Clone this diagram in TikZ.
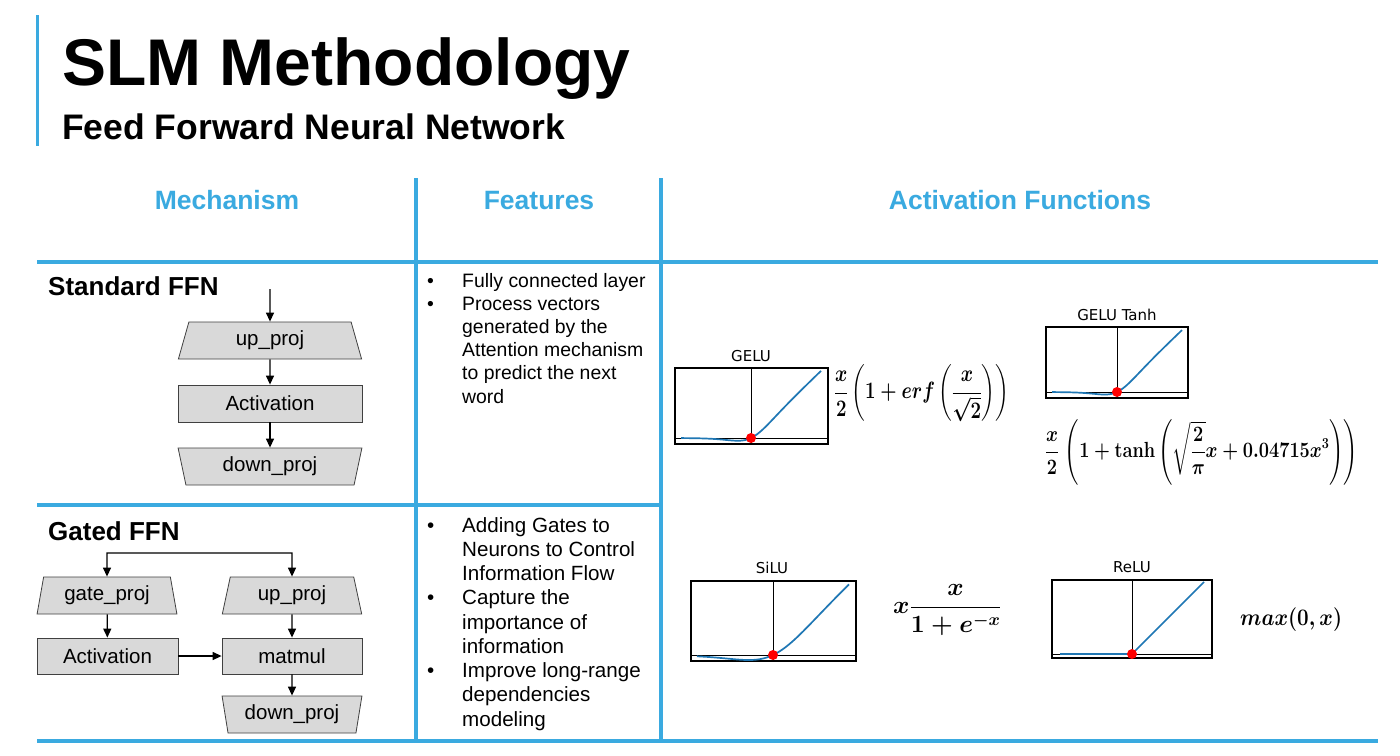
\documentclass[tikz,border=0pt]{standalone}
\usepackage{amsmath}
\usepackage{graphicx}
\usepackage[no-math]{fontspec}
\setmainfont{Liberation Sans}
\newfontfamily\plotfont{DejaVu Sans}
\usetikzlibrary{arrows.meta,shapes.geometric}
\definecolor{tblue}{RGB}{58,170,224}
\definecolor{boxgray}{RGB}{217,217,217}
\definecolor{plotblue}{RGB}{31,119,180}
\newcommand{\FGelu}{\scalebox{0.75}[0.95]{$\displaystyle \boldsymbol{\frac{x}{2}}\left(\boldsymbol{1+erf}\left(\boldsymbol{\frac{x}{\sqrt{2}}}\right)\right)$}}
\newcommand{\FTanh}{\scalebox{0.73}[0.88]{$\displaystyle \boldsymbol{\frac{x}{2}}\,\left(\boldsymbol{1+\mathbf{tanh}}\left(\boldsymbol{\sqrt{\frac{2}{\pi}}x+0.04715x^3}\right)\right)$}}
\newcommand{\FSilu}{\mbox{$\displaystyle \boldsymbol{x\frac{x}{1+e^{-x}}}$}}
\newcommand{\FRelu}{\scalebox{0.83}[0.95]{$\boldsymbol{max(0,x)}$}}
\begin{document}
\begin{tikzpicture}[x=1pt,y=-1pt,
  tline/.style={draw=tblue, line width=3.5pt},
  hdr/.style={text=tblue, font=\bfseries\fontsize{26.5}{30}\selectfont, anchor=base, inner sep=0pt},
  blk/.style={draw=black!75, fill=boxgray, line width=0.8pt, minimum width=184pt, minimum height=37pt, inner sep=0pt, font=\fontsize{20.5}{24}\selectfont},
  trap/.style={blk, trapezium, trapezium left angle=77, trapezium right angle=77, trapezium stretches=true},
  itrap/.style={trap, shape border rotate=180},
  arr/.style={-{Triangle[length=9pt,width=8pt]}, line width=1.3pt},
  plotbox/.style={draw=black, line width=1.2pt},
  paxis/.style={draw=black, line width=0.9pt},
  pcurve/.style={draw=plotblue, line width=1.7pt},
  rdot/.style={circle, fill=red, inner sep=0pt, minimum size=10pt},
  plbl/.style={font=\plotfont\fontsize{15}{17}\selectfont, anchor=base, inner sep=0pt},
  fml/.style={anchor=west, inner sep=0pt, font=\fontsize{23}{27}\selectfont},
  feat/.style={anchor=base west, inner sep=0pt}
]
\useasboundingbox[fill=white] (0,0) rectangle (1400,755);

% title
\draw[tblue, line width=3pt] (37,15) -- (37,146);
\node[anchor=base west, inner sep=0pt, font=\bfseries\fontsize{66}{70}\selectfont] (title) at (62,85) {SLM Methodology};
\node[anchor=base west, inner sep=0pt, font=\bfseries\fontsize{35.5}{40}\selectfont] (sub) at (62,139) {Feed Forward Neural Network};

% table lines
\draw[tline] (416,178) -- (416,742);
\draw[tline] (661,178) -- (661,742);
\draw[tline] (37,262) -- (1378,262);
\draw[tline] (37,505) -- (661,505);
\draw[tline] (37,741) -- (1378,741);

% headers
\node[hdr] (h1) at (227,209) {Mechanism};
\node[hdr] (h2) at (539,209) {Features};
\node[hdr] (h3) at (1020,209) {Activation Functions};

% Standard FFN
\node[anchor=base west, inner sep=0pt, font=\bfseries\fontsize{26}{30}\selectfont] (sffn) at (48,295) {Standard FFN};
\coordinate (in1) at (270,289);
\node[trap] (up1) at (270,340.5) {up\_proj};
\node[blk] (act1) at (270,403.5) {Activation};
\node[itrap] (down1) at (270,466.5) {down\_proj};
\draw[arr] (in1) -- (up1);
\draw[arr] (up1) -- (act1);
\draw[arr] (act1) -- (down1);

% Gated FFN
\node[anchor=base west, inner sep=0pt, font=\bfseries\fontsize{26}{30}\selectfont] (gffn) at (48,540) {Gated FFN};
\node[trap, minimum width=140pt] (gate) at (107,595.5) {gate\_proj};
\node[trap, minimum width=140pt] (up2) at (292,595.5) {up\_proj};
\node[blk, minimum width=141pt, minimum height=36pt] (act2) at (107.5,656) {Activation};
\node[blk, minimum width=140pt, minimum height=36pt] (mm) at (292,656) {matmul};
\node[itrap, minimum width=140pt] (down2) at (292,714.5) {down\_proj};
\coordinate (tl) at (107,553);
\coordinate (tr) at (292,553);
\draw[{Triangle[length=9pt,width=8pt]}-{Triangle[length=9pt,width=8pt]}, line width=1.3pt] (gate.north) -- (tl) -- (tr) -- (up2.north);
\draw[arr] (gate) -- (act2);
\draw[arr] (act2) -- (mm);
\draw[arr] (up2) -- (mm);
\draw[arr] (mm) -- (down2);

% Features
\node[feat, font=\fontsize{19.4}{23.2}\selectfont] (f1) at (427,287) {%
\begin{tabular}[t]{@{}p{35pt}@{}l@{}}
\textbullet & Fully connected layer\\
\textbullet & Process vectors\\
 & generated by the\\
 & Attention mechanism\\
 & to predict the next\\
 & word
\end{tabular}};
\node[feat, font=\fontsize{20.6}{24.25}\selectfont] (f2) at (427,532) {%
\begin{tabular}[t]{@{}p{35pt}@{}l@{}}
\textbullet & Adding Gates to\\
 & Neurons to Control\\
 & Information Flow\\
\textbullet & Capture the\\
 & importance of\\
 & information\\
\textbullet & Improve long-range\\
 & dependencies\\
 & modeling
\end{tabular}};

% GELU plot
\node[plbl] (lgelu) at (751,361) {GELU};
\draw[plotbox] (675,368) rectangle (828,444);
\draw[paxis] (751,368) -- (751,444);
\draw[paxis] (675,438) -- (828,438);
\begin{scope}[shift={(751,438)}, x=17.5pt, y=16.8pt]
\draw[pcurve] plot[smooth, domain=-4:4, samples=60, variable=\t] ({\t},{\t/(1+exp(-1.702*\t))});
\end{scope}
\node[rdot] (o1) at (751,438) {};
\node[fml] (fgelu) at (834,393) {\FGelu};

% GELU Tanh plot
\node[plbl] (ltanh) at (1117,320) {GELU Tanh};
\draw[plotbox] (1046,327) rectangle (1188,398);
\draw[paxis] (1117,327) -- (1117,398);
\draw[paxis] (1046,392) -- (1188,392);
\begin{scope}[shift={(1117,392)}, x=16.25pt, y=15.5pt]
\draw[pcurve] plot[smooth, domain=-4:4, samples=60, variable=\t] ({\t},{\t/(1+exp(-1.702*\t))});
\end{scope}
\node[rdot] (o2) at (1117,392) {};
\node[fml] (ftanh) at (1045,452) {\FTanh};

% SiLU plot
\node[plbl] (lsilu) at (772,573) {SiLU};
\draw[plotbox] (691,581) rectangle (856,661);
\draw[paxis] (773,581) -- (773,661);
\draw[paxis] (691,655) -- (856,655);
\begin{scope}[shift={(773,655)}, x=19pt, y=18pt]
\draw[pcurve] plot[smooth, domain=-4:4, samples=60, variable=\t] ({\t},{\t/(1+exp(-\t))});
\end{scope}
\node[rdot] (o3) at (773,655) {};
\node[fml] (fsilu) at (893,610) {\FSilu};

% ReLU plot
\node[plbl] (lrelu) at (1132,572) {ReLU};
\draw[plotbox] (1052,580) rectangle (1212,658);
\draw[paxis] (1132,580) -- (1132,658);
\draw[paxis] (1052,654) -- (1212,654);
\begin{scope}[shift={(1132,654)}, x=18pt, y=18pt]
\draw[pcurve] (-4,0) -- (0,0) -- (4,4);
\end{scope}
\node[rdot] (o4) at (1132,654) {};
\node[fml] (frelu) at (1240,620) {\FRelu};
\end{tikzpicture}
\end{document}
